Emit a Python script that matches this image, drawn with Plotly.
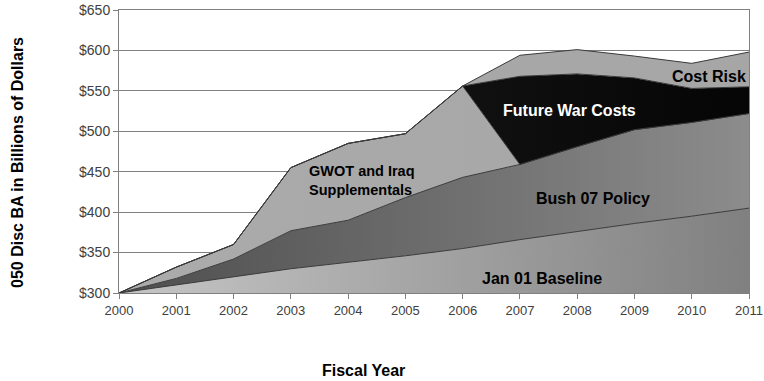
import plotly.graph_objects as go

years = list(range(2000, 2012))
jan01_baseline = [300, 310, 320, 330, 338, 346, 355, 366, 376, 386, 395, 405]
bush07_policy = [0, 8, 22, 47, 52, 72, 88, 93, 105, 116, 116, 117]
gwot_supplementals = [0, 14, 18, 78, 95, 79, 113, 0, 0, 0, 0, 0]
future_war_costs = [0, 0, 0, 0, 0, 0, 0, 109, 90, 64, 42, 33]
cost_risk = [0, 0, 0, 0, 0, 0, 0, 26, 30, 27, 31, 43]

y_ticks = [300, 350, 400, 450, 500, 550, 600, 650]

FONT = "Arial, Liberation Sans, sans-serif"
edge = dict(color="#3a3a3a", width=1)

def grad(c0, c1):
    return dict(type="horizontal", start=2000, stop=2011,
                colorscale=[[0, c0], [1, c1]])

fig = go.Figure()
series = [
    ("Jan 01 Baseline", jan01_baseline, grad("#c6c6c6", "#808080")),
    ("Bush 07 Policy", bush07_policy, grad("#4e4e4e", "#8c8c8c")),
    ("GWOT and Iraq Supplementals", gwot_supplementals, grad("#ababab", "#a6a6a6")),
    ("Future War Costs", future_war_costs, grad("#1e1e1e", "#050505")),
    ("Cost Risk", cost_risk, grad("#aaaaaa", "#a6a6a6")),
]
for name, vals, fg in series:
    fig.add_trace(go.Scatter(
        x=years, y=vals, name=name, stackgroup="one", mode="lines",
        line=edge, fillgradient=fg, hoverinfo="skip"))

def lab(text, x, y, color="#000000", size=16, align="center", xanchor="center"):
    fig.add_annotation(x=x, y=y, text=text, showarrow=False, xref="x", yref="y",
                       font=dict(family=FONT, size=size, color=color),
                       align=align, xanchor=xanchor, yanchor="middle")

lab("<b>GWOT and Iraq<br>Supplementals</b>", 2003.29, 439, size=14.5, align="left", xanchor="left")
lab("<b>Future War Costs</b>", 2007.86, 526, color="#ffffff")
lab("<b>Cost Risk</b>", 2010.3, 568)
lab("<b>Bush 07 Policy</b>", 2008.28, 417)
lab("<b>Jan 01 Baseline</b>", 2007.39, 318)

fig.add_annotation(text="<b>050 Disc BA in Billions of Dollars</b>", xref="paper", yref="paper",
                   x=(17 - 119) / 630, y=(293 - 163) / 283, textangle=-90, showarrow=False,
                   xanchor="center", yanchor="middle",
                   font=dict(family=FONT, size=16, color="#000000"))
fig.add_annotation(text="<b>Fiscal Year</b>", xref="paper", yref="paper",
                   x=(363 - 119) / 630, y=(293 - 370) / 283, showarrow=False,
                   xanchor="center", yanchor="middle",
                   font=dict(family=FONT, size=16, color="#000000"))

fig.update_layout(
    width=764, height=381,
    margin=dict(l=119, r=15, t=10, b=88, autoexpand=False),
    paper_bgcolor="#ffffff", plot_bgcolor="#ffffff",
    showlegend=False,
    font=dict(family=FONT, size=14, color="#404040"),
)
fig.update_xaxes(range=[2000, 2011], tickmode="array", tickvals=years,
                 ticktext=[str(y) for y in years], automargin=False,
                 ticks="outside", ticklen=5, tickcolor="#808080",
                 showline=True, linecolor="#808080", linewidth=1, mirror=True,
                 showgrid=False, zeroline=False,
                 tickfont=dict(family=FONT, size=13, color="#404040"))
fig.update_yaxes(range=[300, 650], tickmode="array", tickvals=y_ticks,
                 ticktext=["$" + str(v) for v in y_ticks], automargin=False,
                 ticks="outside", ticklen=5, tickcolor="#808080",
                 showline=True, linecolor="#808080", linewidth=1, mirror=True,
                 showgrid=True, gridcolor="#808080", gridwidth=1, zeroline=False,
                 tickfont=dict(family=FONT, size=14, color="#404040"))

fig.write_html("out.html")
